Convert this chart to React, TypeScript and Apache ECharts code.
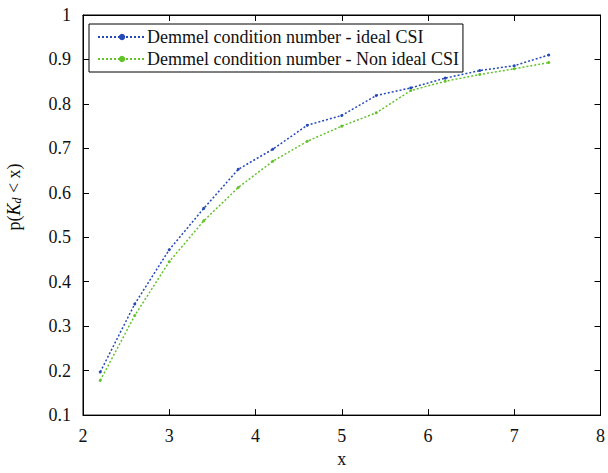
import React, { useEffect, useRef } from "react";
import * as echarts from "echarts";

const xValues = [2.2, 2.6, 3.0, 3.4, 3.8, 4.2, 4.6, 5.0, 5.4, 5.8, 6.2, 6.6, 7.0, 7.4];
const idealCSI = [0.197, 0.35, 0.472, 0.565, 0.653, 0.698, 0.752, 0.774, 0.819, 0.836, 0.858, 0.875, 0.886, 0.91];
const nonIdealCSI = [0.178, 0.324, 0.445, 0.537, 0.612, 0.671, 0.716, 0.75, 0.78, 0.83, 0.851, 0.866, 0.879, 0.893];
const seriesNames = ["Demmel condition number - ideal CSI", "Demmel condition number - Non ideal CSI"];
const xLabelText = "x";

const FONT = "'Liberation Serif', 'Times New Roman', serif";

export default function App() {
  const ref = useRef<HTMLDivElement>(null);
  useEffect(() => {
    if (!ref.current) return;
    const chart = echarts.init(ref.current, null, { renderer: "svg" });
    const pairs = (vals: number[]) => xValues.map((x, i) => [x, vals[i]]);
    const axisCommon = {
      axisLine: { show: true, lineStyle: { color: "#000", width: 1 } },
      axisTick: { show: true, inside: true, length: 6, lineStyle: { color: "#000" } },
      splitLine: { show: false },
    };
    chart.setOption({
      animation: false,
      backgroundColor: "#fff",
      grid: { left: 83, right: 6, top: 15, bottom: 56, show: true, borderColor: "#000", borderWidth: 1, backgroundColor: "transparent" },
      legend: {
        show: true,
        left: 89,
        top: 24,
        orient: "vertical",
        borderColor: "#000",
        borderWidth: 1,
        padding: [4, 4, 4, 8],
        itemWidth: 48,
        itemHeight: 8,
        itemGap: 4,
        textStyle: { fontFamily: FONT, fontSize: 18, color: "#111", padding: [0, 0, 0, -4] },
        data: seriesNames,
      },
      xAxis: [
        {
          type: "value",
          min: 2,
          max: 8,
          interval: 1,
          position: "bottom",
          ...axisCommon,
          axisLabel: { fontFamily: FONT, fontSize: 18, color: "#111", margin: 12 },
          name: xLabelText,
          nameLocation: "middle",
          nameGap: 34,
          nameTextStyle: { fontFamily: FONT, fontSize: 18, color: "#111" },
        },
        {
          type: "value",
          min: 2,
          max: 8,
          interval: 1,
          position: "top",
          ...axisCommon,
          axisLabel: { show: false },
        },
      ],
      yAxis: [
        {
          type: "value",
          min: 0.1,
          max: 1,
          interval: 0.1,
          position: "left",
          ...axisCommon,
          axisLabel: {
            fontFamily: FONT,
            fontSize: 18,
            color: "#111",
            margin: 12,
            formatter: (v: number) => (Math.abs(v - 1) < 1e-9 ? "1" : v.toFixed(1)),
          },
        },
        {
          type: "value",
          min: 0.1,
          max: 1,
          interval: 0.1,
          position: "right",
          ...axisCommon,
          axisLabel: { show: false },
        },
      ],
      graphic: [
        {
          type: "text",
          x: 14,
          y: 197,
          rotation: Math.PI / 2,
          style: {
            text: "{n|p(}{k|K}{s|d}{n| < x)}",
            align: "center",
            verticalAlign: "middle",
            rich: {
              n: { fontFamily: FONT, fontSize: 18, fill: "#111", color: "#111" },
              k: { fontFamily: FONT, fontSize: 18, fontStyle: "italic", color: "#111" },
              s: { fontFamily: FONT, fontSize: 12, fontStyle: "italic", color: "#111", verticalAlign: "bottom", padding: [0, 0, 0, 0] },
            },
          },
        },
      ],
      series: [
        {
          name: seriesNames[0],
          type: "line",
          data: pairs(idealCSI),
          symbol: "circle",
          symbolSize: 3,
          itemStyle: { color: "#2549b8" },
          lineStyle: { color: "#2549b8", width: 1.5, type: [2, 2] },
        },
        {
          name: seriesNames[1],
          type: "line",
          data: pairs(nonIdealCSI),
          symbol: "circle",
          symbolSize: 3,
          itemStyle: { color: "#63c22a" },
          lineStyle: { color: "#63c22a", width: 1.5, type: [2, 2] },
        },
      ],
    });
    return () => chart.dispose();
  }, []);
  return <div ref={ref} style={{ width: 608, height: 473, position: "absolute", left: 0, top: 0 }} />;
}
